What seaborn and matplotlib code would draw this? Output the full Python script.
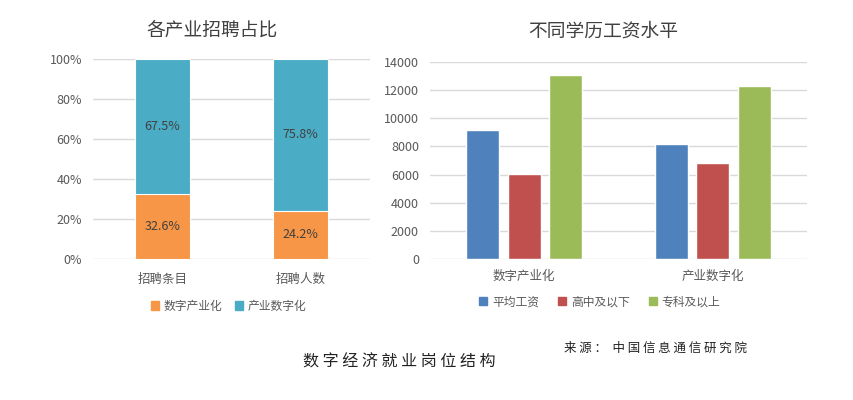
import matplotlib
matplotlib.use("Agg")
import matplotlib.pyplot as plt
from matplotlib.patches import Patch
import seaborn as sns
import pandas as pd

# ---- data ----
left_title = "各产业招聘占比"
left_categories = ["招聘条目", "招聘人数"]
share_digital_industry = [32.6, 24.2]   # 数字产业化
share_industry_digital = [67.5, 75.8]   # 产业数字化
left_series = ["数字产业化", "产业数字化"]

right_title = "不同学历工资水平"
right_categories = ["数字产业化", "产业数字化"]
right_series = ["平均工资", "高中及以下", "专科及以上"]
wage_avg = [9200, 8200]
wage_high_school = [6050, 6800]
wage_college = [13100, 12300]

caption = "数字经济就业岗位结构"
source = "来源：中国信息通信研究院"

sns.set_theme(style="white")
plt.rcParams['font.family'] = ['Noto Sans CJK SC', 'DejaVu Sans']

TXT = "#595959"
GRID = "#d9d9d9"
orange, teal = "#F79646", "#4BACC6"
blue, red, green = "#4F81BD", "#C0504D", "#9BBB59"

fig = plt.figure(figsize=(8.54, 4.0), dpi=100)
axL = fig.add_axes([0.109, 0.3525, 0.324, 0.50])
axR = fig.add_axes([0.5035, 0.3525, 0.4415, 0.4925])

# ---- left stacked 100% bars ----
dfL = pd.DataFrame({"cat": left_categories,
                    "a": share_digital_industry,
                    "b": share_industry_digital})
dfL["total"] = dfL["a"] + dfL["b"]
sns.barplot(data=dfL, x="cat", y="total", color=teal, width=0.4,
            saturation=1, ax=axL, zorder=3)
sns.barplot(data=dfL, x="cat", y="a", color=orange, width=0.4,
            saturation=1, ax=axL, zorder=4)
for p in axL.patches:
    p.set_edgecolor("white")
    p.set_linewidth(0.8)
for i, (a, b) in enumerate(zip(share_digital_industry, share_industry_digital)):
    axL.text(i, a / 2, f"{a}%", ha="center", va="center", fontsize=9,
             color="#404040", zorder=5)
    axL.text(i, a + (100 - a) / 2, f"{b}%",
             ha="center", va="center", fontsize=9, color="#404040", zorder=5)
axL.set_ylim(0, 100)
axL.set_xlim(-0.5, 1.5)
axL.set_yticks(range(0, 101, 20))
axL.set_yticklabels([f"{v}%" for v in range(0, 101, 20)])
axL.yaxis.grid(True, color=GRID, linewidth=1)
axL.set_axisbelow(True)
for s in axL.spines.values():
    s.set_visible(False)
axL.tick_params(axis="y", length=0, pad=8, labelsize=9, labelcolor=TXT)
axL.tick_params(axis="x", length=0, pad=10, labelsize=9, labelcolor=TXT)
axL.set_xlabel("")
axL.set_ylabel("")
axL.set_title(left_title, fontsize=13.5, color="#404040", pad=17, x=0.43)
axL.legend(handles=[Patch(color=orange, label=left_series[0]),
                    Patch(color=teal, label=left_series[1])],
           loc="upper center", bbox_to_anchor=(0.49, -0.15), ncol=2,
           frameon=False, fontsize=8.5, labelcolor=TXT,
           handlelength=0.7, handleheight=0.7, handletextpad=0.4,
           columnspacing=1.0)

# ---- right grouped bars ----
dfR = pd.DataFrame({
    "cat": right_categories * 3,
    "series": sum([[s] * 2 for s in right_series], []),
    "value": wage_avg + wage_high_school + wage_college,
})
sns.barplot(data=dfR, x="cat", y="value", hue="series", hue_order=right_series,
            palette=[blue, red, green], width=0.66, gap=0.2, saturation=1,
            ax=axR, zorder=3, legend=False)
axR.set_ylim(0, 14000)
axR.set_xlim(-0.5, 1.5)
axR.set_yticks(range(0, 14001, 2000))
axR.yaxis.grid(True, color=GRID, linewidth=1)
axR.set_axisbelow(True)
for s in axR.spines.values():
    s.set_visible(False)
axR.tick_params(axis="y", length=0, pad=8, labelsize=9, labelcolor=TXT)
axR.tick_params(axis="x", length=0, pad=8, labelsize=9, labelcolor=TXT)
axR.set_xlabel("")
axR.set_ylabel("")
axR.set_title(right_title, fontsize=13.5, color="#404040", pad=18, x=0.46)
axR.legend(handles=[Patch(color=c, label=l) for c, l in zip([blue, red, green], right_series)],
           loc="upper center", bbox_to_anchor=(0.45, -0.13), ncol=3,
           frameon=False, fontsize=8.5, labelcolor=TXT,
           handlelength=0.7, handleheight=0.7, handletextpad=0.4,
           columnspacing=1.6)

# ---- caption & source ----
fig.text(0.4675, 0.095, " ".join(caption), ha="center", va="center",
         fontsize=11.5, color="#222222")
fig.text(0.767, 0.13, " ".join(source).replace("： ", "：  "), ha="center",
         va="center", fontsize=9, color="#222222")

fig.savefig("out.png", dpi=100)
